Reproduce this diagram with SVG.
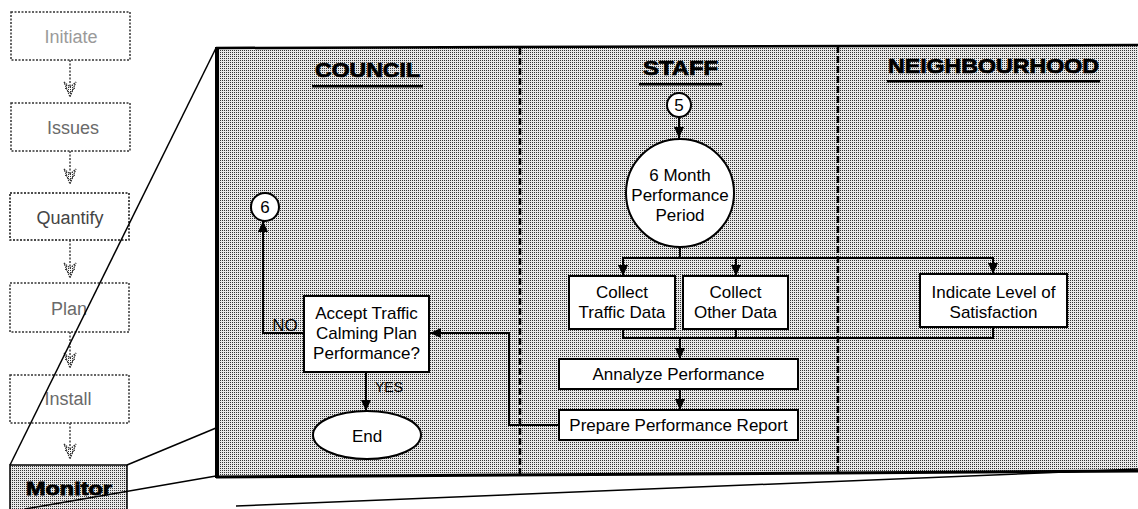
<svg xmlns="http://www.w3.org/2000/svg" width="1138" height="509" viewBox="0 0 1138 509">
  <defs>
    <!-- halftone screen used for the swimlane panel and the active step -->
    <pattern id="halftone" width="2" height="2" patternUnits="userSpaceOnUse">
      <rect width="2" height="2" fill="#e8e8e8"/>
      <rect x="0" y="0" width="1" height="1" fill="#333"/>
    </pattern>
    <pattern id="hatch" width="2" height="2" patternUnits="userSpaceOnUse">
      <rect width="2" height="2" fill="#fff"/>
      <rect width="1" height="1" fill="#333"/>
    </pattern>
    <marker id="arrow" markerUnits="userSpaceOnUse" markerWidth="12" markerHeight="10" refX="11" refY="5" orient="auto">
      <path d="M0,0 L11,5 L0,10 Z" fill="#000"/>
    </marker>
    <!-- feathered arrowhead of the phase column -->
    <g id="phaseHead">
      <path d="M-6,-13 L0,-8 L6,-13 L0,2 Z" fill="url(#hatch)" stroke="#333" stroke-width="1.2" stroke-dasharray="1.5 1"/>
      <path d="M-5,-7 L0,-2 L5,-7" fill="none" stroke="#333" stroke-width="1" stroke-dasharray="1.5 1"/>
    </g>
  </defs>
  <style>
    .phase { fill: #fff; stroke: #333; stroke-width: 1.5; stroke-dasharray: 2 1.5; }
    .phaseText { font-family: "Liberation Sans", Arial, sans-serif; font-size: 18px; fill: #6a6a6a; text-anchor: middle; }
    .phaseLink { stroke: #444; stroke-width: 1.5; stroke-dasharray: 2 1.5; fill: none; }
    .box { fill: #fff; stroke: #000; stroke-width: 2; }
    .label { font-family: "Liberation Sans", Arial, sans-serif; font-size: 17px; fill: #000; text-anchor: middle; }
    .head { font-family: "Liberation Sans", Arial, sans-serif; font-size: 20px; font-weight: bold; fill: #000; stroke: #000; stroke-width: 0.7; }
    .edge { stroke: #000; stroke-width: 2; fill: none; }
    .lane { stroke: #000; stroke-width: 2.5; stroke-dasharray: 7 3; }
    .zoom { stroke: #000; stroke-width: 1.5; fill: none; }
  </style>

  <!-- swimlane panel -->
  <g id="panel">
    <path d="M216,48 L1138,45 L1138,471 L216,477 Z" fill="url(#halftone)"/>
    <path d="M216,48 L1138,45" stroke="#000" stroke-width="2.5"/>
    <path d="M216,477 L1138,471" stroke="#000" stroke-width="3"/>
    <path d="M217,47 V478" stroke="#000" stroke-width="4"/>
    <line class="lane" x1="520" y1="48" x2="520" y2="476"/>
    <line class="lane" x1="838" y1="46" x2="838" y2="474"/>
  </g>

  <!-- lane headings -->
  <g id="lane-council">
    <text class="head" x="315" y="77" textLength="105" lengthAdjust="spacingAndGlyphs">COUNCIL</text>
    <rect x="312" y="85" width="111" height="2.5" fill="#000"/>
  </g>
  <g id="lane-staff">
    <text class="head" x="643" y="75" textLength="75" lengthAdjust="spacingAndGlyphs">STAFF</text>
    <rect x="639" y="83" width="83" height="2.5" fill="#000"/>
  </g>
  <g id="lane-neighbourhood">
    <text class="head" x="888" y="73" textLength="211" lengthAdjust="spacingAndGlyphs">NEIGHBOURHOOD</text>
    <rect x="887" y="80" width="213" height="2.5" fill="#000"/>
  </g>

  <!-- phase column -->
  <g id="phase-initiate">
    <rect class="phase" x="11" y="12" width="119" height="48"/>
    <text class="phaseText" x="71" y="43" style="fill:#9a9a9a">Initiate</text>
  </g>
  <g id="phase-issues">
    <rect class="phase" x="11" y="103" width="119" height="48"/>
    <text class="phaseText" x="73" y="134">Issues</text>
  </g>
  <g id="phase-quantify">
    <rect class="phase" x="10" y="193" width="119" height="47" style="stroke:#111"/>
    <text class="phaseText" x="70" y="224" style="fill:#444">Quantify</text>
  </g>
  <g id="phase-plan">
    <rect class="phase" x="10" y="283" width="119" height="49"/>
    <text class="phaseText" x="69" y="315">Plan</text>
  </g>
  <g id="phase-install">
    <rect class="phase" x="10" y="375" width="119" height="48"/>
    <text class="phaseText" x="68" y="405">Install</text>
  </g>
  <g id="phase-monitor">
    <rect x="10" y="465" width="117" height="50" fill="url(#halftone)" stroke="#000" stroke-width="1.5"/>
    <text x="69" y="495" font-family="Liberation Sans, Arial, sans-serif" font-size="19" font-weight="bold" fill="#000" stroke="#000" stroke-width="0.8" text-anchor="middle" textLength="86" lengthAdjust="spacingAndGlyphs">Monitor</text>
  </g>

  <!-- phase column links -->
  <g id="phase-links">
    <line class="phaseLink" x1="70" y1="60" x2="70" y2="95"/>
    <use href="#phaseHead" x="70" y="95"/>
    <line class="phaseLink" x1="70" y1="151" x2="70" y2="182"/>
    <use href="#phaseHead" x="70" y="182"/>
    <line class="phaseLink" x1="70" y1="240" x2="70" y2="276"/>
    <use href="#phaseHead" x="70" y="276"/>
    <line class="phaseLink" x1="70" y1="332" x2="70" y2="366"/>
    <use href="#phaseHead" x="70" y="366"/>
    <line class="phaseLink" x1="70" y1="423" x2="70" y2="457"/>
    <use href="#phaseHead" x="70" y="457"/>
  </g>

  <!-- magnifier lines from the active step to the panel -->
  <g id="zoom-lines">
    <line class="zoom" x1="10" y1="465" x2="216" y2="48"/>
    <line class="zoom" x1="127" y1="465" x2="216" y2="428"/>
    <line class="zoom" x1="25" y1="509" x2="216" y2="476"/>
    <line class="zoom" x1="236" y1="506" x2="1138" y2="469"/>
  </g>

  <!-- staff lane -->
  <g id="node-5">
    <circle cx="679" cy="105" r="12" fill="#fff" stroke="#000" stroke-width="2"/>
    <text class="label" x="679" y="111" font-size="17">5</text>
  </g>
  <g id="node-period">
    <circle cx="680" cy="193" r="54" fill="#fff" stroke="#000" stroke-width="2"/>
    <text class="label" x="680" y="181">6 Month</text>
    <text class="label" x="680" y="201">Performance</text>
    <text class="label" x="680" y="221">Period</text>
  </g>
  <g id="node-traffic">
    <rect class="box" x="569" y="276" width="106" height="53"/>
    <text class="label" x="622" y="298">Collect</text>
    <text class="label" x="622" y="318">Traffic Data</text>
  </g>
  <g id="node-other">
    <rect class="box" x="683" y="276" width="105" height="53"/>
    <text class="label" x="735.5" y="298">Collect</text>
    <text class="label" x="735.5" y="318">Other Data</text>
  </g>
  <g id="node-analyze">
    <rect class="box" x="559" y="359" width="239" height="30"/>
    <text class="label" x="678.5" y="380">Annalyze Performance</text>
  </g>
  <g id="node-report">
    <rect class="box" x="559" y="410" width="239" height="30"/>
    <text class="label" x="678.5" y="431">Prepare Performance Report</text>
  </g>

  <!-- neighbourhood lane -->
  <g id="node-satisfaction">
    <rect class="box" x="920" y="274" width="147" height="53"/>
    <text class="label" x="993.5" y="298">Indicate Level of</text>
    <text class="label" x="993.5" y="318">Satisfaction</text>
  </g>

  <!-- council lane -->
  <g id="node-6">
    <circle cx="265" cy="207" r="14" fill="#fff" stroke="#000" stroke-width="2"/>
    <text class="label" x="265" y="213" font-size="18">6</text>
  </g>
  <g id="node-accept">
    <rect class="box" x="304" y="296" width="125" height="76"/>
    <text class="label" x="366.5" y="319">Accept Traffic</text>
    <text class="label" x="366.5" y="339">Calming Plan</text>
    <text class="label" x="366.5" y="359">Performance?</text>
  </g>
  <g id="node-end">
    <ellipse cx="367" cy="435" rx="54" ry="24" fill="#fff" stroke="#000" stroke-width="2"/>
    <text class="label" x="367" y="442" font-size="20">End</text>
  </g>

  <!-- connectors -->
  <g id="connectors">
    <line class="edge" x1="679" y1="117" x2="679" y2="138" marker-end="url(#arrow)"/>
    <path class="edge" d="M680,247 V258 M622,258 H993"/>
    <line class="edge" x1="623" y1="257" x2="623" y2="276" marker-end="url(#arrow)"/>
    <line class="edge" x1="736" y1="257" x2="736" y2="276" marker-end="url(#arrow)"/>
    <line class="edge" x1="993" y1="257" x2="993" y2="274" marker-end="url(#arrow)"/>
    <path class="edge" d="M623,329 V338 H993 V327 M736,329 V338"/>
    <line class="edge" x1="680" y1="338" x2="680" y2="359" marker-end="url(#arrow)"/>
    <line class="edge" x1="680" y1="389" x2="680" y2="410" marker-end="url(#arrow)"/>
    <path class="edge" d="M559,425 H509 V333 H430" marker-end="url(#arrow)"/>
    <path class="edge" d="M304,333 H263 V221" marker-end="url(#arrow)"/>
    <line class="edge" x1="366" y1="372" x2="366" y2="411" marker-end="url(#arrow)"/>
    <text class="label" x="285" y="331" font-size="14">NO</text>
    <text x="375" y="392" font-family="Liberation Sans, Arial, sans-serif" font-size="14" fill="#000">YES</text>
  </g>
</svg>
